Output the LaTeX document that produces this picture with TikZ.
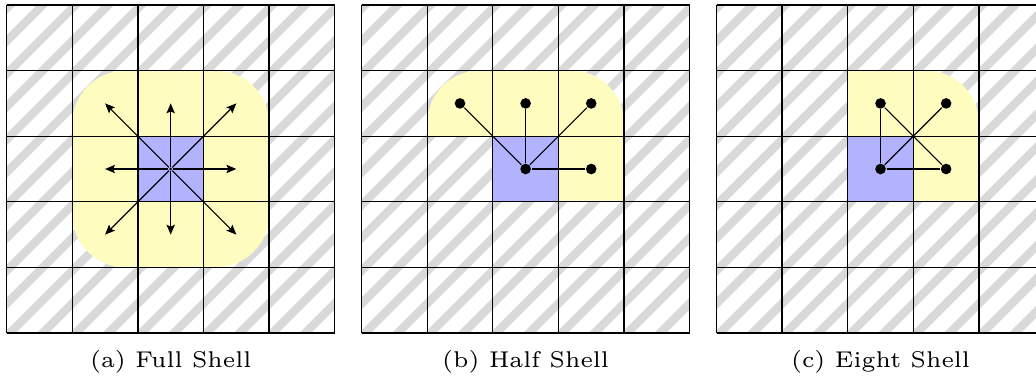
\documentclass[tikz,border=0pt]{standalone}
\usepackage{xcolor}
\usepackage{tikz}
\usetikzlibrary{arrows.meta}

\begin{document}
\begin{tikzpicture}[x=0.607cm, y=0.607cm,
    >={Stealth[length=2.6pt, width=2.2pt, inset=0.5pt]},
    hatchline/.style={gray!30, line width=2.2pt},
    cellgrid/.style={line width=0.35pt, step={(1,1)}},
    shellfill/.style={fill=yellow!25},
    homefill/.style={fill=blue!30},
    link/.style={line width=0.3pt},
    atom/.style={circle, fill=black, inner sep=0pt, minimum size=2.8pt},
    hub/.style={circle, fill=black, inner sep=0pt, minimum size=0.8pt},
    caption/.style={font=\fontsize{6}{7.2}\selectfont, anchor=base}]

\useasboundingbox (-0.102,-0.717) rectangle (15.69,5.076);

% ── (a) Full shell ───────────────────────────────────────────────
\begin{scope}[shift={(0, 0)}]
    \begin{scope}
        \clip (0,0) rectangle (5,5);
        \foreach \k in {-11,...,11}
            \draw[hatchline] (0.05+0.5*\k-1, -1) -- ++(7,7);
    \end{scope}
    \fill[shellfill, rounded corners=14pt] (1,1) rectangle (4,4);
    \fill[homefill] (2,2) rectangle (3,3);
    \draw[cellgrid] (0,0) grid (5,5);

    \node[hub] (ac) at (2.5,2.5) {};
    \foreach \dx/\dy [count=\i] in {-1/1, 0/1, 1/1, -1/0, 1/0, -1/-1, 0/-1, 1/-1}
        \coordinate (a\i) at (2.5+\dx, 2.5+\dy);
    \foreach \i in {1,...,8}
        \draw[link, ->] (ac) -- (a\i);

    \node[caption] (capa) at (2.5,-0.528) {(a) Full Shell};
\end{scope}

% ── (b) Half shell ───────────────────────────────────────────────
\begin{scope}[shift={(5.41, 0)}]
    \begin{scope}
        \clip (0,0) rectangle (5,5);
        \foreach \k in {-11,...,11}
            \draw[hatchline] (0.05+0.5*\k-1, -1) -- ++(7,7);
    \end{scope}
    \fill[shellfill] (1,3) -- (1,3.2) arc[start angle=180, end angle=90, radius=0.8]
        -- (3.2,4) arc[start angle=90, end angle=0, radius=0.8]
        -- (4,2) -- (3,2) -- (3,3) -- cycle;
    \fill[homefill] (2,2) rectangle (3,3);
    \draw[cellgrid] (0,0) grid (5,5);

    \node[atom] (bc) at (2.5,2.5) {};
    \node[atom] (b1) at (1.5,3.5) {};
    \node[atom] (b2) at (2.5,3.5) {};
    \node[atom] (b3) at (3.5,3.5) {};
    \node[atom] (b4) at (3.5,2.5) {};
    \foreach \i in {1,...,4}
        \draw[link] (bc) -- (b\i);

    \node[caption] (capb) at (2.5,-0.528) {(b) Half Shell};
\end{scope}

% ── (c) Eight shell ──────────────────────────────────────────────
\begin{scope}[shift={(10.82, 0)}]
    \begin{scope}
        \clip (0,0) rectangle (5,5);
        \foreach \k in {-11,...,11}
            \draw[hatchline] (0.05+0.5*\k-1, -1) -- ++(7,7);
    \end{scope}
    \fill[shellfill] (2,3) -- (2,4)
        -- (3.2,4) arc[start angle=90, end angle=0, radius=0.8]
        -- (4,2) -- (3,2) -- (3,3) -- cycle;
    \fill[homefill] (2,2) rectangle (3,3);
    \draw[cellgrid] (0,0) grid (5,5);

    \node[atom] (cc) at (2.5,2.5) {};
    \node[atom] (c1) at (2.5,3.5) {};
    \node[atom] (c2) at (3.5,3.5) {};
    \node[atom] (c3) at (3.5,2.5) {};
    \draw[link] (cc) -- (c1);
    \draw[link] (cc) -- (c2);
    \draw[link] (cc) -- (c3);
    \draw[link] (c1) -- (c3);

    \node[caption] (capc) at (2.5,-0.528) {(c) Eight Shell};
\end{scope}

\end{tikzpicture}
\end{document}
